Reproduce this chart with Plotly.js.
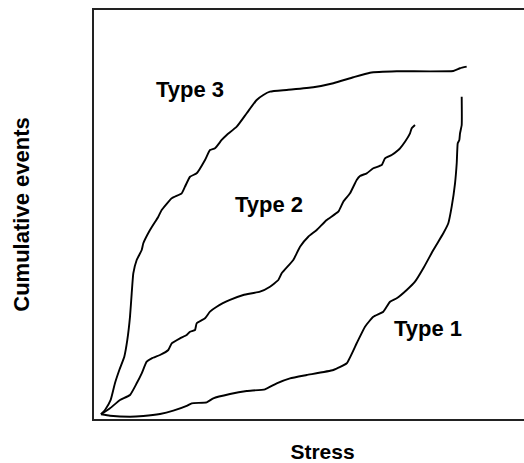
<!DOCTYPE html>
<html>
<head>
<meta charset="utf-8">
<script src="https://cdn.plot.ly/plotly-3.0.1.min.js"></script>
<style>
html,body{margin:0;padding:0;overflow:hidden;background:#fff;}
#chart{width:551px;height:463px;}
</style>
</head>
<body>
<div id="chart"></div>
<script>
// Stress (x) and cumulative events (y) (arbitrary 0-100 units)
const type3X = [1.53,2.41,3.65,4.60,5.54,6.63,7.29,7.88,8.25,8.60,9.34,10.44,10.79,12.25,14.07,14.81,17.00,19.19,19.91,21.01,22.47,24.29,25.38,26.48,27.94,29.04,31.23,33.41,35.60,37.05,38.51,42.17,47.99,52.37,56.74,60.39,66.24,78.62,80.09,81.55];
const type3Y = [1.15,2.20,4.65,8.80,11.98,15.23,19.32,25.01,30.73,35.62,38.88,41.32,42.96,46.21,49.46,51.10,53.96,55.18,56.80,59.24,60.07,63.33,65.77,66.19,68.22,69.44,71.47,74.75,78.00,79.22,80.03,80.44,81.10,82.08,83.55,84.67,85.01,85.09,85.75,86.14];

const type2X = [1.53,3.50,5.69,7.88,9.34,10.44,11.53,12.63,14.44,16.26,17.00,18.82,20.28,21.01,22.10,22.47,24.29,25.38,26.85,29.76,32.67,36.32,38.51,40.33,41.07,43.61,45.08,46.89,48.73,50.92,53.46,54.55,56.02,57.48,58.21,59.67,61.12,62.95,63.68,65.14,66.59,66.96,68.05,69.15,69.52,70.24];
const type2Y = [1.15,2.62,4.65,5.87,8.73,11.17,14.01,14.84,15.65,16.87,18.51,19.73,20.54,21.34,21.76,23.40,24.62,26.24,27.46,29.10,30.32,31.12,32.35,33.99,35.62,38.88,42.13,44.57,46.21,48.66,50.69,53.13,55.18,58.44,59.41,60.07,61.30,62.10,63.74,64.55,65.77,66.19,67.80,69.85,71.08,71.88];

const type1X = [1.53,3.50,7.88,10.79,14.44,17.35,20.28,21.38,24.66,26.11,29.76,33.41,37.42,39.98,42.89,46.54,52.37,55.30,57.48,59.30,61.12,63.30,64.77,66.24,68.43,70.24,72.06,74.25,76.44,77.53,78.27,79.00,79.37,79.59,79.94,80.09,80.46,80.46];
const type1Y = [1.15,0.81,0.56,0.73,1.22,2.03,3.18,3.84,4.08,5.06,6.11,6.85,7.26,8.73,9.95,10.76,11.98,13.62,18.51,22.57,25.01,26.23,28.68,29.51,31.54,33.57,36.85,41.32,45.40,47.85,51.91,57.63,62.52,67.41,68.22,69.85,71.88,78.80];

const labels = ["Type 3","Type 2","Type 1"];
const labelX = [21.0,38.4,73.1];
const labelY = [80.6,52.45,22.1];

const font = {family:"Liberation Sans, Arial, sans-serif", color:"#000"};
const lineStyle = {color:"#000", width:1.9, shape:"spline", smoothing:0.4};

const traces = [
  {x:type3X, y:type3Y, name:"Type 3", mode:"lines", line:lineStyle},
  {x:type2X, y:type2Y, name:"Type 2", mode:"lines", line:lineStyle},
  {x:type1X, y:type1Y, name:"Type 1", mode:"lines", line:lineStyle}
];

const annotations = labels.map((t,i)=>({
  x:labelX[i], y:labelY[i], xref:"x", yref:"y", text:t, showarrow:false,
  font:Object.assign({size:22, weight:"bold"}, font)
}));

const layout = {
  width:551, height:463,
  margin:{l:94, r:0, t:10, b:44},
  paper_bgcolor:"#fff", plot_bgcolor:"#fff",
  showlegend:false,
  xaxis:{range:[0,100], showticklabels:false, ticks:"", showgrid:false, zeroline:false,
         showline:true, mirror:true, linecolor:"#222", linewidth:1.6,
         title:{text:"Stress", standoff:26, font:Object.assign({size:21, weight:"bold"}, font)}},
  yaxis:{range:[0,100], showticklabels:false, ticks:"", showgrid:false, zeroline:false,
         showline:true, linecolor:"#222", linewidth:1.6,
         title:{text:"Cumulative events", standoff:57, font:Object.assign({size:22, weight:"bold"}, font)}},
  annotations:annotations
};

Plotly.newPlot("chart", traces, layout, {staticPlot:true, displayModeBar:false});
</script>
</body>
</html>
